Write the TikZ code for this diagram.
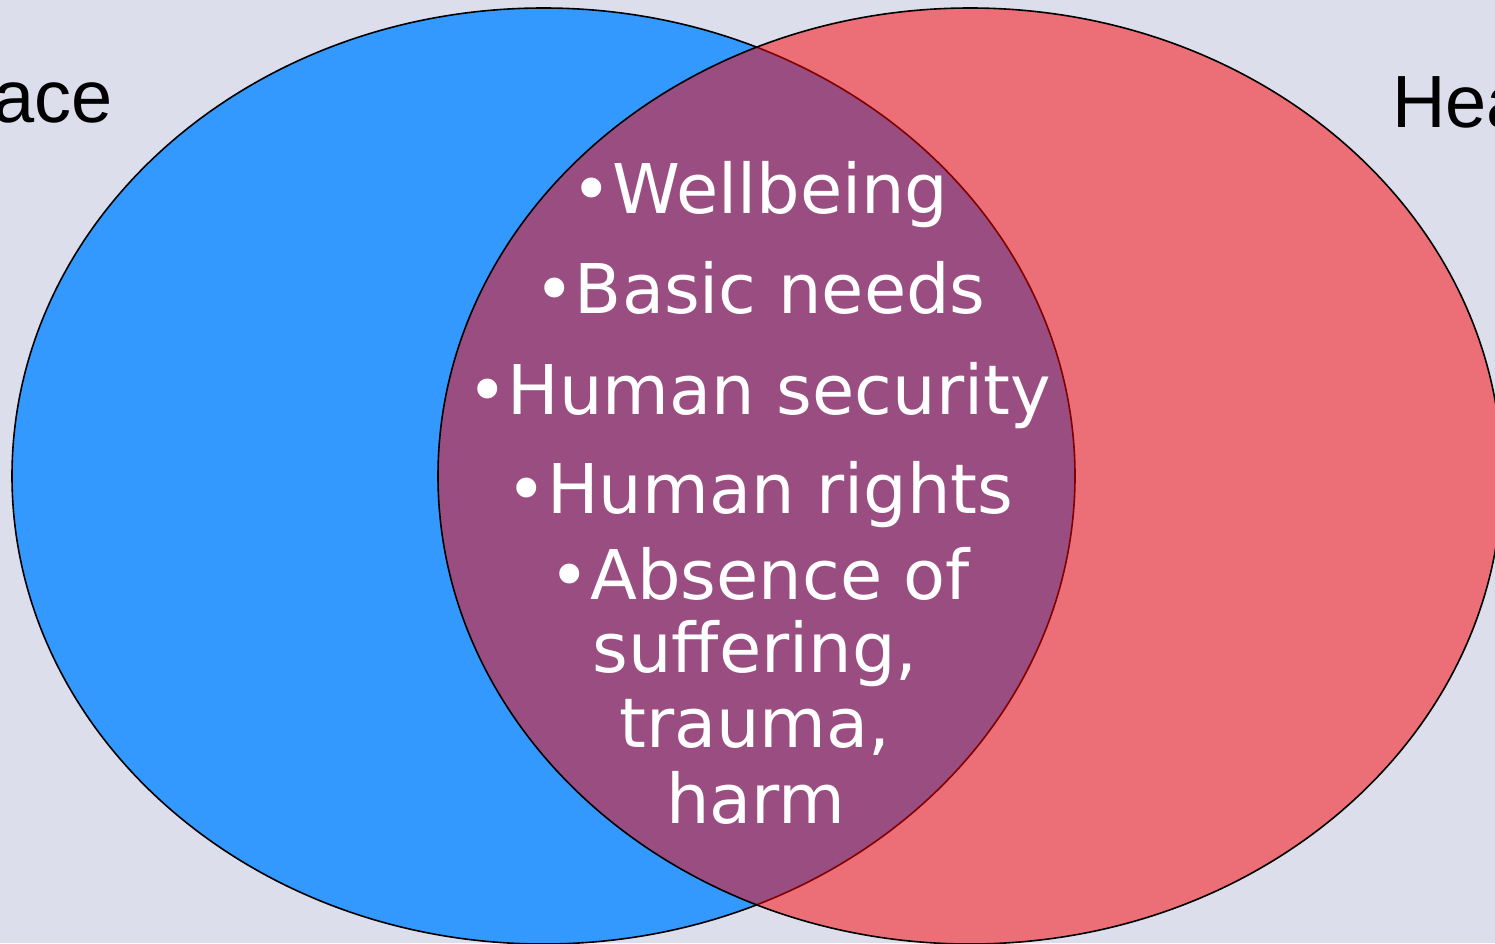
\documentclass[tikz,border=0pt]{standalone}
\usepackage{fontspec}
\setmainfont{DejaVu Sans}
\newfontfamily\lblfont{Liberation Sans}
\newfontfamily\itemfont{DejaVu Sans}
\definecolor{bgc}{RGB}{220,222,236}
\definecolor{bluec}{RGB}{51,153,255}
\definecolor{redc}{RGB}{236,111,119}
\definecolor{purc}{RGB}{154,77,128}
\definecolor{darkr}{RGB}{128,0,0}
\tikzset{
  item/.style={anchor=base, inner sep=0pt, text=white, font=\itemfont\fontsize{68.6}{75}\selectfont},
  setlabel/.style={inner sep=0pt, text=black, font=\lblfont\fontsize{74}{80}\selectfont},
  outline/.style={line width=1.6pt}
}
\begin{document}
\begin{tikzpicture}[x=1pt,y=-1pt]
\useasboundingbox (0,0) rectangle (1495,943);
\fill[bgc] (0,0) rectangle (1495,943);
% left set
\fill[bluec] (543.5,476) ellipse [x radius=531.5, y radius=468];
\draw[outline, black] (543.5,476) ellipse [x radius=531.5, y radius=468];
% right set
\fill[redc] (970,476) ellipse [x radius=532, y radius=468];
% intersection
\begin{scope}
  \clip (543.5,476) ellipse [x radius=531.5, y radius=468];
  \fill[purc] (970,476) ellipse [x radius=532, y radius=468];
\end{scope}
\begin{scope}
  \clip (970,476) ellipse [x radius=532, y radius=468];
  \draw[outline, darkr] (543.5,476) ellipse [x radius=531.5, y radius=468];
\end{scope}
\draw[outline, black] (970,476) ellipse [x radius=532, y radius=468];
% set labels
\node[setlabel, anchor=base east] (peace) at (113,122) {Peace};
\node[setlabel, anchor=base west] (health) at (1392,127) {Health};
% items
\node[item] (i1) at (760,213) {•Wellbeing};
\node[item] (i2) at (760,313) {•Basic needs};
\node[item] (i3) at (759,414) {•Human security};
\node[item] (i4) at (760,513) {•Human rights};
\node[item] (i5) at (760,599) {•Absence of};
\node[item] (i6) at (755,672) {suffering,};
\node[item] (i7) at (755,747) {trauma,};
\node[item] (i8) at (756,823) {harm};
\end{tikzpicture}
\end{document}
